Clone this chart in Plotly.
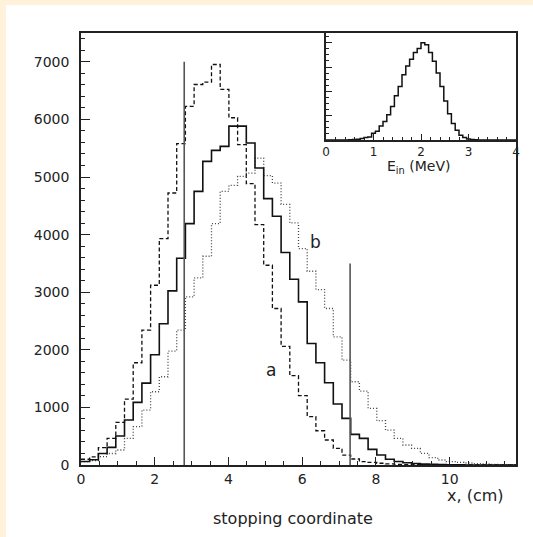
import numpy as np
import plotly.graph_objects as go

# ---------------- data ----------------
x_min, x_max, n_bins = 0.0, 11.8, 50
curve_a = [100, 140, 300, 462, 740, 1145, 1775, 2341, 3121, 3931,
           4722, 5578, 6225, 6606, 6647, 6953, 6520, 6029, 5561, 4885,
           4174, 3468, 2717, 2060, 1550, 1205, 840, 595, 434, 289,
           173, 104, 58, 46, 30, 20, 12, 8, 5, 3,
           2, 1, 0, 0, 0, 0, 0, 0, 0, 0]
curve_mid = [60, 90, 200, 306, 503, 780, 1087, 1422, 1913, 2451,
             3023, 3590, 4191, 4751, 5271, 5462, 5531, 5884, 5884, 5589,
             5156, 4624, 4318, 3688, 3225, 2832, 2110, 1774, 1427, 1058,
             810, 532, 463, 272, 173, 99, 60, 40, 25, 15,
             10, 6, 4, 2, 1, 0, 0, 0, 0, 0]
curve_b = [58, 75, 145, 200, 260, 462, 665, 954, 1272, 1532,
           1977, 2341, 2919, 3249, 3624, 4191, 4751, 4855, 5011, 5069,
           5329, 5023, 4895, 4526, 4202, 3757, 3364, 3046, 2717, 2225,
           1821, 1445, 1283, 983, 769, 607, 462, 347, 289, 202,
           127, 87, 58, 45, 35, 25, 20, 12, 8, 5]
cut_lines = [(2.8, 7000), (7.3, 3500)]

e_min, e_max, e_bins = 0.0, 4.0, 50
e_in = [0, 0, 0, 0, 0, 0, 0.002, 0.005, 0.008, 0.015,
        0.025, 0.03, 0.07, 0.09, 0.145, 0.19, 0.26, 0.345, 0.455, 0.55,
        0.67, 0.76, 0.83, 0.9, 0.94, 1.0, 0.98, 0.9, 0.81, 0.69,
        0.55, 0.40, 0.27, 0.17, 0.10, 0.05, 0.025, 0.01, 0.004, 0.002,
        0, 0, 0, 0, 0, 0, 0, 0, 0, 0]

y_ticks = [0, 1000, 2000, 3000, 4000, 5000, 6000, 7000]
x_ticks = [0, 2, 4, 6, 8, 10]
e_ticks = [0, 1, 2, 3, 4]

# ---------------- figure ----------------
W, H = 533, 537
L, R, T, B = 81, 17, 33, 72
pw, ph = W - L - R, H - T - B

edges = np.linspace(x_min, x_max, n_bins + 1)
e_edges = np.linspace(e_min, e_max, e_bins + 1)


def step(vals):
    return list(vals) + [vals[-1]]


fig = go.Figure()
fig.add_trace(go.Scatter(x=edges, y=step(curve_a), mode="lines", line_shape="hv",
                         line=dict(color="#111", width=1.3, dash="4px,2.5px"), hoverinfo="skip"))
fig.add_trace(go.Scatter(x=edges, y=step(curve_b), mode="lines", line_shape="hv",
                         line=dict(color="#444", width=1.3, dash="1px,2px"), hoverinfo="skip"))
fig.add_trace(go.Scatter(x=edges, y=step(curve_mid), mode="lines", line_shape="hv",
                         line=dict(color="#111", width=1.6), hoverinfo="skip"))
for xc, yt in cut_lines:
    fig.add_trace(go.Scatter(x=[xc, xc], y=[0, yt], mode="lines",
                             line=dict(color="#555", width=1.6), hoverinfo="skip"))

fig.add_trace(go.Scatter(x=e_edges, y=step(e_in), mode="lines", line_shape="hv",
                         line=dict(color="#111", width=1.5), xaxis="x2", yaxis="y2",
                         hoverinfo="skip"))

font = "DejaVu Sans, sans-serif"
axis_common = dict(showline=True, linecolor="#222", linewidth=1.6, mirror=True,
                   ticks="inside", tickcolor="#222", tickwidth=1.3,
                   showgrid=False, zeroline=False,
                   tickfont=dict(family=font, size=14, color="#222"))

inset_x0 = (326 - L) / pw
inset_y0 = (H - B - 140) / ph

fig.update_layout(
    width=W, height=H,
    margin=dict(l=L, r=R, t=T, b=B),
    paper_bgcolor="#fff1da",
    plot_bgcolor="white",
    showlegend=False,
    xaxis=dict(axis_common, range=[x_min, x_max], tickvals=x_ticks, ticklen=8,
               minor=dict(dtick=0.5, ticklen=4, ticks="inside", tickcolor="#222", tickwidth=1.2),
               domain=[0, 1]),
    yaxis=dict(axis_common, range=[0, 7500], tickvals=y_ticks, ticklen=9,
               ticklabelstandoff=7,
               minor=dict(dtick=200, ticklen=4.5, ticks="inside", tickcolor="#222", tickwidth=1.2),
               domain=[0, 1]),
    xaxis2=dict(axis_common, range=[e_min, e_max], tickvals=e_ticks, ticklen=6,
                tickfont=dict(family=font, size=12, color="#222"),
                minor=dict(dtick=0.2, ticklen=3.5, ticks="inside", tickcolor="#222", tickwidth=1),
                domain=[inset_x0, 1], anchor="y2"),
    yaxis2=dict(axis_common, range=[0, 1.1], dtick=0.25, ticklen=6, showticklabels=False,
                minor=dict(dtick=0.0625, ticklen=3.5, ticks="inside", tickcolor="#222", tickwidth=1),
                domain=[inset_y0, 1], anchor="x2"),
    shapes=[dict(type="rect", xref="paper", yref="paper",
                 x0=(6 - L) / pw, x1=(W + 20 - L) / pw,
                 y0=(H - B - (H + 20)) / ph, y1=(H - B - 5) / ph,
                 fillcolor="white", line=dict(width=0), layer="below")],
    annotations=[
        dict(x=5.15, y=1650, xref="x", yref="y", text="a", showarrow=False,
             font=dict(family=font, size=17, color="#222")),
        dict(x=6.35, y=3870, xref="x", yref="y", text="b", showarrow=False,
             font=dict(family=font, size=17, color="#222")),
        dict(x=(506 - L) / pw, y=(H - B - 495) / ph, xref="paper", yref="paper", text="x, (cm)",
             showarrow=False, xanchor="right", yanchor="middle",
             font=dict(family=font, size=16, color="#222")),
        dict(x=(293 - L) / pw, y=(H - B - 518) / ph, xref="paper", yref="paper",
             text="stopping coordinate", showarrow=False, xanchor="center", yanchor="middle",
             font=dict(family=font, size=16, color="#222")),
        dict(x=(418 - L) / pw, y=(H - B - 167) / ph, xref="paper", yref="paper",
             text="E<sub>in</sub> (MeV)", showarrow=False, xanchor="center", yanchor="middle",
             font=dict(family=font, size=14, color="#222")),
    ],
)

fig.write_html("out.html")
